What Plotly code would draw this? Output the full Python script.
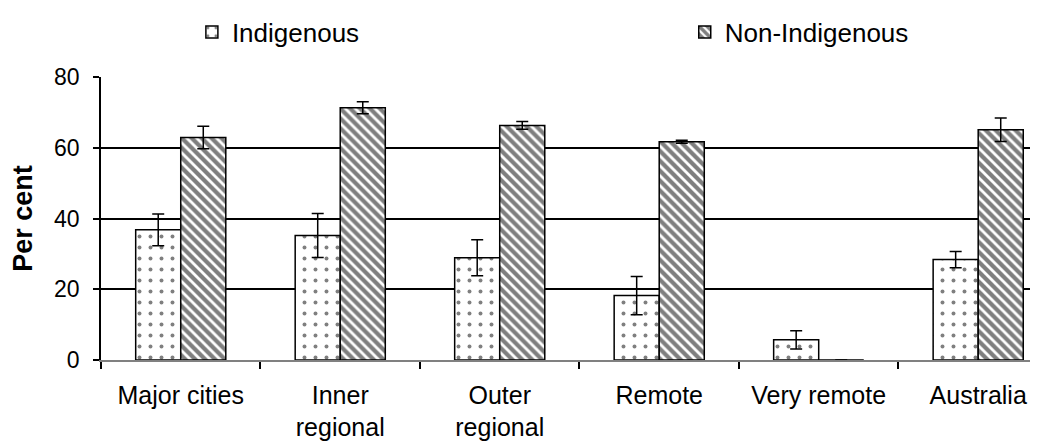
import plotly.graph_objects as go

categories = ["Major cities", "Inner<br>regional", "Outer<br>regional", "Remote", "Very remote", "Australia"]
indigenous = [36.8, 35.2, 28.9, 18.2, 5.7, 28.4]
indigenous_err = [4.5, 6.2, 5.1, 5.4, 2.6, 2.3]
non_indigenous = [62.9, 71.3, 66.3, 61.7, 0, 65.1]
non_indigenous_err = [3.2, 1.7, 1.1, 0.4, 0, 3.3]
y_ticks = [0, 20, 40, 60, 80]

FONT = "Arial, Liberation Sans, sans-serif"

fig = go.Figure()
fig.add_trace(go.Bar(
    name="Indigenous", x=categories, y=indigenous, legend="legend",
    error_y=dict(type="data", array=indigenous_err, color="black", thickness=1.5, width=6),
    marker=dict(color="white", line=dict(color="black", width=1.5),
                pattern=dict(shape=".", fgcolor="black", bgcolor="white", size=11, solidity=0.1)),
))
fig.add_trace(go.Bar(
    name="Non-Indigenous", x=categories, y=non_indigenous, legend="legend2",
    error_y=dict(type="data", array=non_indigenous_err, color="black", thickness=1.5, width=6),
    marker=dict(color="white", line=dict(color="black", width=1.5),
                pattern=dict(shape="\\", fgcolor="black", bgcolor="white", size=7, solidity=0.6)),
))

leg_common = dict(orientation="h", y=1.159, xanchor="left", yanchor="middle",
                  font=dict(size=26, family=FONT), itemwidth=30, bgcolor="rgba(0,0,0,0)")

fig.update_layout(
    width=1030, height=436,
    margin=dict(l=93, r=0, t=69, b=84, autoexpand=False),
    paper_bgcolor="white", plot_bgcolor="white",
    font=dict(family=FONT, size=24, color="black"),
    barmode="group", bargap=0.435, bargroupgap=0,
    showlegend=True,
    legend=dict(x=0.097, **leg_common),
    legend2=dict(x=0.623, **leg_common),
    xaxis=dict(type="category", range=[-0.5, 5.375], showline=True, linecolor="#808080", linewidth=1.5,
               ticks="outside", tickson="boundaries", ticklen=7, tickcolor="black", tickwidth=1.5,
               showgrid=False, tickfont=dict(size=25, family=FONT), ticklabelstandoff=12),
    yaxis=dict(range=[0, 80], tickvals=y_ticks, showline=True, linecolor="black", linewidth=1.5,
               ticks="outside", ticklen=6, tickcolor="black", tickwidth=1.5,
               showgrid=True, gridcolor="black", gridwidth=1.5, zeroline=False,
               tickfont=dict(size=23, family=FONT), ticklabelstandoff=9,
               title=dict(text="<b>Per cent</b>", font=dict(size=27, family=FONT), standoff=18)),
)

fig.write_html("out.html")
